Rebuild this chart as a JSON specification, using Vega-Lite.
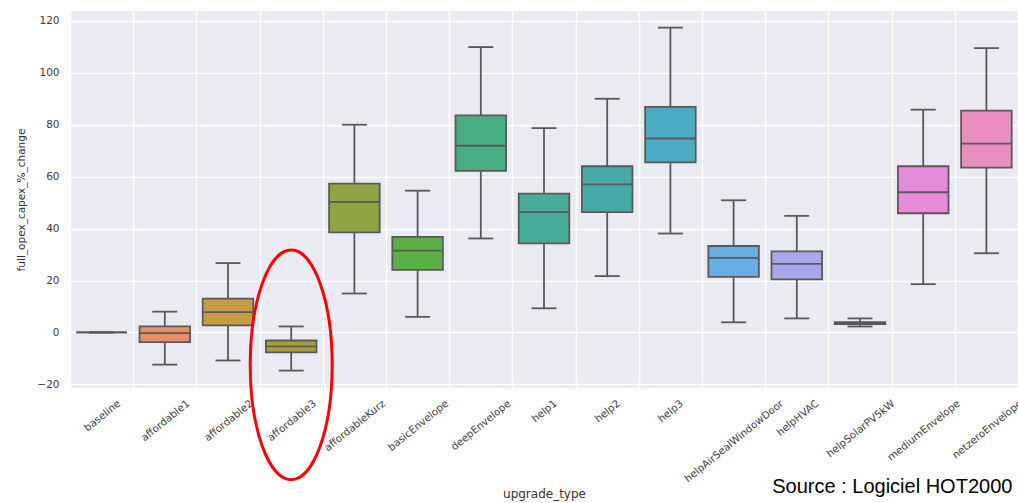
{
  "$schema": "https://vega.github.io/schema/vega-lite/v6.json",
  "width": 948,
  "height": 377,
  "autosize": {"type": "none"},
  "padding": {"left": 70, "top": 11, "right": 0, "bottom": 115},
  "background": "white",
  "config": {
    "view": {"fill": "#EAEAF2", "stroke": null},
    "axisY": {
      "titleFont": "DejaVu Sans",
      "titleFontSize": 10.5,
      "titleFontWeight": "normal",
      "titleColor": "#333333",
      "titleX": -49,
      "titleY": 188.5,
      "titleBaseline": "middle",
      "titleAlign": "center",
      "values": [-20, 0, 20, 40, 60, 80, 100, 120],
      "domain": false,
      "ticks": false,
      "tickSize": 0,
      "grid": true,
      "gridColor": "#FFFFFF",
      "gridWidth": 1.5,
      "labelPadding": 11,
      "labelFont": "DejaVu Sans",
      "labelFontSize": 10.5,
      "labelColor": "#404040"
    }
  },
  "datasets": {
    "boxes": [
      {"upgrade_type": "baseline", "lower": 0, "q1": 0, "median": 0, "q3": 0, "upper": 0},
      {"upgrade_type": "affordable1", "lower": -12.4, "q1": -3.7, "median": -0.3, "q3": 2.3, "upper": 8.0},
      {"upgrade_type": "affordable2", "lower": -10.8, "q1": 2.7, "median": 7.8, "q3": 13.0, "upper": 26.7},
      {"upgrade_type": "affordable3", "lower": -14.7, "q1": -7.7, "median": -5.4, "q3": -3.1, "upper": 2.3},
      {"upgrade_type": "affordableKurz", "lower": 15.0, "q1": 38.5, "median": 50.3, "q3": 57.3, "upper": 80.0},
      {"upgrade_type": "basicEnvelope", "lower": 6.0, "q1": 24.1, "median": 31.5, "q3": 36.8, "upper": 54.6},
      {"upgrade_type": "deepEnvelope", "lower": 36.2, "q1": 62.2, "median": 71.9, "q3": 83.6, "upper": 109.9},
      {"upgrade_type": "help1", "lower": 9.3, "q1": 34.3, "median": 46.3, "q3": 53.5, "upper": 78.7},
      {"upgrade_type": "help2", "lower": 21.7, "q1": 46.3, "median": 57.0, "q3": 64.0, "upper": 90.0},
      {"upgrade_type": "help3", "lower": 38.1, "q1": 65.5, "median": 74.7, "q3": 86.9, "upper": 117.4},
      {"upgrade_type": "helpAirSealWindowDoor", "lower": 3.9, "q1": 21.4, "median": 28.7, "q3": 33.3, "upper": 50.9},
      {"upgrade_type": "helpHVAC", "lower": 5.4, "q1": 20.4, "median": 26.4, "q3": 31.2, "upper": 44.9},
      {"upgrade_type": "helpSolarPV5kW", "lower": 2.3, "q1": 3.2, "median": 3.6, "q3": 4.0, "upper": 5.4},
      {"upgrade_type": "mediumEnvelope", "lower": 18.6, "q1": 45.9, "median": 54.0, "q3": 64.0, "upper": 85.8},
      {"upgrade_type": "netzeroEnvelope", "lower": 30.5, "q1": 63.5, "median": 72.7, "q3": 85.4, "upper": 109.5}
    ],
    "highlight": [{"upgrade_type": "affordable3", "value": -12.5}],
    "source": [{"upgrade_type": "netzeroEnvelope", "value": -61.9, "text": "Source : Logiciel HOT2000"}]
  },
  "encoding": {
    "x": {
      "field": "upgrade_type",
      "type": "nominal",
      "scale": {
        "type": "band",
        "paddingInner": 0,
        "paddingOuter": 0,
        "domain": ["baseline", "affordable1", "affordable2", "affordable3", "affordableKurz", "basicEnvelope", "deepEnvelope", "help1", "help2", "help3", "helpAirSealWindowDoor", "helpHVAC", "helpSolarPV5kW", "mediumEnvelope", "netzeroEnvelope"]
      },
      "axis": {
        "title": "upgrade_type",
        "titleFont": "DejaVu Sans",
        "titleFontSize": 12,
        "titleFontWeight": "normal",
        "titleColor": "#333333",
        "titleBaseline": "alphabetic",
        "titleY": 109,
        "domain": false,
        "ticks": false,
        "tickSize": 0,
        "tickBand": "extent",
        "grid": true,
        "gridColor": "#FFFFFF",
        "gridWidth": 1.5,
        "labelAngle": -39,
        "labelAlign": "right",
        "labelBaseline": "top",
        "labelPadding": 10,
        "labelFont": "DejaVu Sans",
        "labelFontSize": 10.3,
        "labelColor": "#404040",
        "labelOverlap": false,
        "labelFlush": false,
        "labelBound": false,
        "labelOffset": {
          "condition": [
            {"test": "datum.value === 'baseline'", "value": 14},
            {"test": "datum.value === 'affordableKurz'", "value": 26},
            {"test": "datum.value === 'basicEnvelope'", "value": 26},
            {"test": "datum.value === 'deepEnvelope'", "value": 25},
            {"test": "datum.value === 'help1' || datum.value === 'help2' || datum.value === 'help3'", "value": 8},
            {"test": "datum.value === 'helpAirSealWindowDoor'", "value": 45},
            {"test": "datum.value === 'helpHVAC'", "value": 17},
            {"test": "datum.value === 'helpSolarPV5kW'", "value": 30},
            {"test": "datum.value === 'mediumEnvelope'", "value": 32},
            {"test": "datum.value === 'netzeroEnvelope'", "value": 31}
          ],
          "value": 20
        }
      }
    }
  },
  "layer": [
    {
      "data": {"name": "boxes"},
      "mark": {"type": "rule", "color": "#595959", "strokeWidth": 1.8},
      "encoding": {
        "y": {
          "field": "lower",
          "type": "quantitative",
          "scale": {"domain": [-21.4, 123.8], "nice": false, "zero": false},
          "axis": {"title": "full_opex_capex_%_change"}
        },
        "y2": {"field": "upper"}
      }
    },
    {
      "data": {"name": "boxes"},
      "mark": {"type": "tick", "color": "#595959", "size": 25, "thickness": 1.8, "opacity": 1},
      "encoding": {"y": {"field": "lower", "type": "quantitative", "axis": {"title": "full_opex_capex_%_change"}}}
    },
    {
      "data": {"name": "boxes"},
      "mark": {"type": "tick", "color": "#595959", "size": 25, "thickness": 1.8, "opacity": 1},
      "encoding": {"y": {"field": "upper", "type": "quantitative", "axis": {"title": "full_opex_capex_%_change"}}}
    },
    {
      "data": {"name": "boxes"},
      "mark": {"type": "bar", "width": {"band": 0.8}, "stroke": "#595959", "strokeWidth": 1.8, "opacity": 1},
      "encoding": {
        "y": {"field": "q1", "type": "quantitative", "axis": {"title": "full_opex_capex_%_change"}},
        "y2": {"field": "q3"},
        "color": {
          "field": "upgrade_type",
          "type": "nominal",
          "legend": null,
          "scale": {
            "domain": ["baseline", "affordable1", "affordable2", "affordable3", "affordableKurz", "basicEnvelope", "deepEnvelope", "help1", "help2", "help3", "helpAirSealWindowDoor", "helpHVAC", "helpSolarPV5kW", "mediumEnvelope", "netzeroEnvelope"],
            "range": ["#E8858F", "#E5916E", "#C79A46", "#A89E3E", "#90A444", "#5CAE47", "#48AF84", "#47AB99", "#46AAA9", "#4CABC3", "#67AEE3", "#A9A8EB", "#CB9DE7", "#E68ADA", "#E98EBF"]
          }
        }
      }
    },
    {
      "data": {"name": "boxes"},
      "mark": {"type": "tick", "color": "#595959", "size": 50.5, "thickness": 1.8, "opacity": 1},
      "encoding": {"y": {"field": "median", "type": "quantitative", "axis": {"title": "full_opex_capex_%_change"}}}
    },
    {
      "data": {"name": "highlight"},
      "mark": {
        "type": "point",
        "shape": "M0,-2.8C0.5523,-2.8,1,-1.5464,1,0C1,1.5464,0.5523,2.8,0,2.8C-0.5523,2.8,-1,1.5464,-1,0C-1,-1.5464,-0.5523,-2.8,0,-2.8Z",
        "size": 6724,
        "filled": false,
        "stroke": "#FF0000",
        "strokeWidth": 3,
        "opacity": 1
      },
      "encoding": {"y": {"field": "value", "type": "quantitative", "axis": {"title": "full_opex_capex_%_change"}}}
    },
    {
      "data": {"name": "source"},
      "mark": {"type": "text", "font": "Liberation Sans", "fontSize": 20, "color": "#000000", "align": "right", "baseline": "alphabetic", "dx": 26},
      "encoding": {
        "y": {"field": "value", "type": "quantitative", "axis": {"title": "full_opex_capex_%_change"}},
        "text": {"field": "text"}
      }
    }
  ]
}
